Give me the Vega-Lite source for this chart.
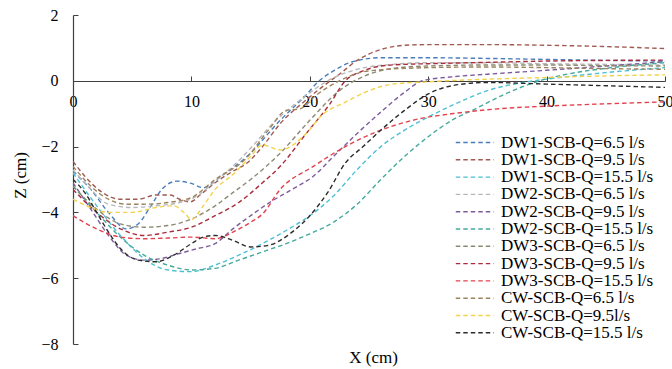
{
  "$schema": "https://vega.github.io/schema/vega-lite/v6.json",
  "width": 592,
  "height": 329,
  "autosize": {"type": "none"},
  "padding": {"left": 73, "top": 15, "right": 7, "bottom": 25},
  "background": "white",
  "config": {"view": {"stroke": null}, "font": "'Liberation Serif', 'Times New Roman', serif"},
  "datasets": {
    "profiles": [
      {"s": "DW1-SCB-Q=6.5 l/s", "x": 0, "z": -2.75}, {"s": "DW1-SCB-Q=6.5 l/s", "x": 1.5, "z": -3.3}, {"s": "DW1-SCB-Q=6.5 l/s", "x": 3, "z": -4.0}, {"s": "DW1-SCB-Q=6.5 l/s", "x": 4.5, "z": -4.5}, {"s": "DW1-SCB-Q=6.5 l/s", "x": 5.5, "z": -4.35}, {"s": "DW1-SCB-Q=6.5 l/s", "x": 6.5, "z": -3.85}, {"s": "DW1-SCB-Q=6.5 l/s", "x": 7.5, "z": -3.3}, {"s": "DW1-SCB-Q=6.5 l/s", "x": 8.8, "z": -3.05}, {"s": "DW1-SCB-Q=6.5 l/s", "x": 10, "z": -3.12}, {"s": "DW1-SCB-Q=6.5 l/s", "x": 11, "z": -3.25}, {"s": "DW1-SCB-Q=6.5 l/s", "x": 12.5, "z": -2.9}, {"s": "DW1-SCB-Q=6.5 l/s", "x": 14.7, "z": -2.3}, {"s": "DW1-SCB-Q=6.5 l/s", "x": 17.5, "z": -1.2}, {"s": "DW1-SCB-Q=6.5 l/s", "x": 19.5, "z": -0.5}, {"s": "DW1-SCB-Q=6.5 l/s", "x": 20.8, "z": 0.0}, {"s": "DW1-SCB-Q=6.5 l/s", "x": 22, "z": 0.3}, {"s": "DW1-SCB-Q=6.5 l/s", "x": 23.6, "z": 0.58}, {"s": "DW1-SCB-Q=6.5 l/s", "x": 26, "z": 0.7}, {"s": "DW1-SCB-Q=6.5 l/s", "x": 30, "z": 0.7}, {"s": "DW1-SCB-Q=6.5 l/s", "x": 35, "z": 0.68}, {"s": "DW1-SCB-Q=6.5 l/s", "x": 40, "z": 0.65}, {"s": "DW1-SCB-Q=6.5 l/s", "x": 45, "z": 0.62}, {"s": "DW1-SCB-Q=6.5 l/s", "x": 50, "z": 0.6},

      {"s": "DW1-SCB-Q=9.5 l/s", "x": 0, "z": -2.45}, {"s": "DW1-SCB-Q=9.5 l/s", "x": 1, "z": -2.9}, {"s": "DW1-SCB-Q=9.5 l/s", "x": 2.5, "z": -3.4}, {"s": "DW1-SCB-Q=9.5 l/s", "x": 4, "z": -3.6}, {"s": "DW1-SCB-Q=9.5 l/s", "x": 5.5, "z": -3.6}, {"s": "DW1-SCB-Q=9.5 l/s", "x": 7, "z": -3.47}, {"s": "DW1-SCB-Q=9.5 l/s", "x": 8.2, "z": -3.47}, {"s": "DW1-SCB-Q=9.5 l/s", "x": 9, "z": -3.6}, {"s": "DW1-SCB-Q=9.5 l/s", "x": 9.9, "z": -3.68}, {"s": "DW1-SCB-Q=9.5 l/s", "x": 10.8, "z": -3.45}, {"s": "DW1-SCB-Q=9.5 l/s", "x": 12, "z": -3.1}, {"s": "DW1-SCB-Q=9.5 l/s", "x": 13.5, "z": -2.75}, {"s": "DW1-SCB-Q=9.5 l/s", "x": 14.7, "z": -2.5}, {"s": "DW1-SCB-Q=9.5 l/s", "x": 16, "z": -2.0}, {"s": "DW1-SCB-Q=9.5 l/s", "x": 17.5, "z": -1.3}, {"s": "DW1-SCB-Q=9.5 l/s", "x": 19.7, "z": -0.58}, {"s": "DW1-SCB-Q=9.5 l/s", "x": 21, "z": -0.2}, {"s": "DW1-SCB-Q=9.5 l/s", "x": 22.5, "z": 0.2}, {"s": "DW1-SCB-Q=9.5 l/s", "x": 24, "z": 0.62}, {"s": "DW1-SCB-Q=9.5 l/s", "x": 26, "z": 0.95}, {"s": "DW1-SCB-Q=9.5 l/s", "x": 28, "z": 1.08}, {"s": "DW1-SCB-Q=9.5 l/s", "x": 30, "z": 1.1}, {"s": "DW1-SCB-Q=9.5 l/s", "x": 35, "z": 1.1}, {"s": "DW1-SCB-Q=9.5 l/s", "x": 40, "z": 1.08}, {"s": "DW1-SCB-Q=9.5 l/s", "x": 45, "z": 1.04}, {"s": "DW1-SCB-Q=9.5 l/s", "x": 50, "z": 0.98},

      {"s": "DW1-SCB-Q=15.5 l/s", "x": 0, "z": -2.8}, {"s": "DW1-SCB-Q=15.5 l/s", "x": 2, "z": -3.8}, {"s": "DW1-SCB-Q=15.5 l/s", "x": 4, "z": -4.7}, {"s": "DW1-SCB-Q=15.5 l/s", "x": 6, "z": -5.4}, {"s": "DW1-SCB-Q=15.5 l/s", "x": 8, "z": -5.75}, {"s": "DW1-SCB-Q=15.5 l/s", "x": 10, "z": -5.8}, {"s": "DW1-SCB-Q=15.5 l/s", "x": 12, "z": -5.6}, {"s": "DW1-SCB-Q=15.5 l/s", "x": 14, "z": -5.3}, {"s": "DW1-SCB-Q=15.5 l/s", "x": 16, "z": -4.95}, {"s": "DW1-SCB-Q=15.5 l/s", "x": 18, "z": -4.55}, {"s": "DW1-SCB-Q=15.5 l/s", "x": 20, "z": -4.1}, {"s": "DW1-SCB-Q=15.5 l/s", "x": 22, "z": -3.5}, {"s": "DW1-SCB-Q=15.5 l/s", "x": 24, "z": -2.7}, {"s": "DW1-SCB-Q=15.5 l/s", "x": 26, "z": -2.0}, {"s": "DW1-SCB-Q=15.5 l/s", "x": 28, "z": -1.5}, {"s": "DW1-SCB-Q=15.5 l/s", "x": 30, "z": -1.1}, {"s": "DW1-SCB-Q=15.5 l/s", "x": 32, "z": -0.75}, {"s": "DW1-SCB-Q=15.5 l/s", "x": 35, "z": -0.3}, {"s": "DW1-SCB-Q=15.5 l/s", "x": 38, "z": -0.05}, {"s": "DW1-SCB-Q=15.5 l/s", "x": 40, "z": 0.05}, {"s": "DW1-SCB-Q=15.5 l/s", "x": 45, "z": 0.25}, {"s": "DW1-SCB-Q=15.5 l/s", "x": 50, "z": 0.4},

      {"s": "DW2-SCB-Q=6.5 l/s", "x": 0, "z": -2.7}, {"s": "DW2-SCB-Q=6.5 l/s", "x": 1.5, "z": -3.3}, {"s": "DW2-SCB-Q=6.5 l/s", "x": 3, "z": -3.75}, {"s": "DW2-SCB-Q=6.5 l/s", "x": 5, "z": -3.85}, {"s": "DW2-SCB-Q=6.5 l/s", "x": 7, "z": -3.8}, {"s": "DW2-SCB-Q=6.5 l/s", "x": 9, "z": -3.7}, {"s": "DW2-SCB-Q=6.5 l/s", "x": 10.5, "z": -3.5}, {"s": "DW2-SCB-Q=6.5 l/s", "x": 12, "z": -3.05}, {"s": "DW2-SCB-Q=6.5 l/s", "x": 13.5, "z": -2.6}, {"s": "DW2-SCB-Q=6.5 l/s", "x": 15, "z": -2.05}, {"s": "DW2-SCB-Q=6.5 l/s", "x": 17, "z": -1.25}, {"s": "DW2-SCB-Q=6.5 l/s", "x": 19.5, "z": -0.5}, {"s": "DW2-SCB-Q=6.5 l/s", "x": 21.5, "z": 0.0}, {"s": "DW2-SCB-Q=6.5 l/s", "x": 24, "z": 0.35}, {"s": "DW2-SCB-Q=6.5 l/s", "x": 27, "z": 0.5}, {"s": "DW2-SCB-Q=6.5 l/s", "x": 30, "z": 0.55}, {"s": "DW2-SCB-Q=6.5 l/s", "x": 35, "z": 0.55}, {"s": "DW2-SCB-Q=6.5 l/s", "x": 40, "z": 0.52}, {"s": "DW2-SCB-Q=6.5 l/s", "x": 45, "z": 0.5}, {"s": "DW2-SCB-Q=6.5 l/s", "x": 50, "z": 0.48},

      {"s": "DW2-SCB-Q=9.5 l/s", "x": 0, "z": -3.1}, {"s": "DW2-SCB-Q=9.5 l/s", "x": 1.5, "z": -3.9}, {"s": "DW2-SCB-Q=9.5 l/s", "x": 3, "z": -4.7}, {"s": "DW2-SCB-Q=9.5 l/s", "x": 4.5, "z": -5.3}, {"s": "DW2-SCB-Q=9.5 l/s", "x": 6, "z": -5.45}, {"s": "DW2-SCB-Q=9.5 l/s", "x": 7.5, "z": -5.4}, {"s": "DW2-SCB-Q=9.5 l/s", "x": 9, "z": -5.25}, {"s": "DW2-SCB-Q=9.5 l/s", "x": 10.5, "z": -5.1}, {"s": "DW2-SCB-Q=9.5 l/s", "x": 12, "z": -4.95}, {"s": "DW2-SCB-Q=9.5 l/s", "x": 13.5, "z": -4.5}, {"s": "DW2-SCB-Q=9.5 l/s", "x": 15, "z": -4.1}, {"s": "DW2-SCB-Q=9.5 l/s", "x": 16.6, "z": -3.7}, {"s": "DW2-SCB-Q=9.5 l/s", "x": 18.5, "z": -3.3}, {"s": "DW2-SCB-Q=9.5 l/s", "x": 20.3, "z": -2.9}, {"s": "DW2-SCB-Q=9.5 l/s", "x": 22, "z": -2.3}, {"s": "DW2-SCB-Q=9.5 l/s", "x": 24, "z": -1.6}, {"s": "DW2-SCB-Q=9.5 l/s", "x": 26, "z": -0.95}, {"s": "DW2-SCB-Q=9.5 l/s", "x": 28, "z": -0.35}, {"s": "DW2-SCB-Q=9.5 l/s", "x": 29.5, "z": 0.0}, {"s": "DW2-SCB-Q=9.5 l/s", "x": 32, "z": 0.12}, {"s": "DW2-SCB-Q=9.5 l/s", "x": 35, "z": 0.2}, {"s": "DW2-SCB-Q=9.5 l/s", "x": 40, "z": 0.32}, {"s": "DW2-SCB-Q=9.5 l/s", "x": 45, "z": 0.45}, {"s": "DW2-SCB-Q=9.5 l/s", "x": 50, "z": 0.58},

      {"s": "DW2-SCB-Q=15.5 l/s", "x": 0, "z": -3.2}, {"s": "DW2-SCB-Q=15.5 l/s", "x": 2, "z": -4.0}, {"s": "DW2-SCB-Q=15.5 l/s", "x": 4, "z": -4.75}, {"s": "DW2-SCB-Q=15.5 l/s", "x": 6, "z": -5.3}, {"s": "DW2-SCB-Q=15.5 l/s", "x": 8, "z": -5.6}, {"s": "DW2-SCB-Q=15.5 l/s", "x": 10, "z": -5.75}, {"s": "DW2-SCB-Q=15.5 l/s", "x": 12, "z": -5.7}, {"s": "DW2-SCB-Q=15.5 l/s", "x": 14, "z": -5.45}, {"s": "DW2-SCB-Q=15.5 l/s", "x": 16, "z": -5.2}, {"s": "DW2-SCB-Q=15.5 l/s", "x": 18, "z": -4.95}, {"s": "DW2-SCB-Q=15.5 l/s", "x": 20, "z": -4.65}, {"s": "DW2-SCB-Q=15.5 l/s", "x": 22, "z": -4.3}, {"s": "DW2-SCB-Q=15.5 l/s", "x": 24, "z": -3.75}, {"s": "DW2-SCB-Q=15.5 l/s", "x": 26, "z": -3.0}, {"s": "DW2-SCB-Q=15.5 l/s", "x": 28, "z": -2.3}, {"s": "DW2-SCB-Q=15.5 l/s", "x": 30, "z": -1.7}, {"s": "DW2-SCB-Q=15.5 l/s", "x": 32, "z": -1.2}, {"s": "DW2-SCB-Q=15.5 l/s", "x": 34, "z": -0.85}, {"s": "DW2-SCB-Q=15.5 l/s", "x": 36.5, "z": -0.4}, {"s": "DW2-SCB-Q=15.5 l/s", "x": 39.4, "z": 0.0}, {"s": "DW2-SCB-Q=15.5 l/s", "x": 42, "z": 0.22}, {"s": "DW2-SCB-Q=15.5 l/s", "x": 45, "z": 0.38}, {"s": "DW2-SCB-Q=15.5 l/s", "x": 50, "z": 0.55},

      {"s": "DW3-SCB-Q=6.5 l/s", "x": 0, "z": -3.2}, {"s": "DW3-SCB-Q=6.5 l/s", "x": 2, "z": -3.9}, {"s": "DW3-SCB-Q=6.5 l/s", "x": 4, "z": -4.35}, {"s": "DW3-SCB-Q=6.5 l/s", "x": 6, "z": -4.45}, {"s": "DW3-SCB-Q=6.5 l/s", "x": 8, "z": -4.4}, {"s": "DW3-SCB-Q=6.5 l/s", "x": 10, "z": -4.2}, {"s": "DW3-SCB-Q=6.5 l/s", "x": 12, "z": -3.8}, {"s": "DW3-SCB-Q=6.5 l/s", "x": 13.5, "z": -3.4}, {"s": "DW3-SCB-Q=6.5 l/s", "x": 15, "z": -3.0}, {"s": "DW3-SCB-Q=6.5 l/s", "x": 17.5, "z": -2.2}, {"s": "DW3-SCB-Q=6.5 l/s", "x": 20, "z": -1.2}, {"s": "DW3-SCB-Q=6.5 l/s", "x": 22.5, "z": -0.3}, {"s": "DW3-SCB-Q=6.5 l/s", "x": 25, "z": 0.2}, {"s": "DW3-SCB-Q=6.5 l/s", "x": 27.5, "z": 0.4}, {"s": "DW3-SCB-Q=6.5 l/s", "x": 30, "z": 0.45}, {"s": "DW3-SCB-Q=6.5 l/s", "x": 35, "z": 0.48}, {"s": "DW3-SCB-Q=6.5 l/s", "x": 40, "z": 0.48}, {"s": "DW3-SCB-Q=6.5 l/s", "x": 45, "z": 0.46}, {"s": "DW3-SCB-Q=6.5 l/s", "x": 50, "z": 0.45},

      {"s": "DW3-SCB-Q=9.5 l/s", "x": 0, "z": -3.3}, {"s": "DW3-SCB-Q=9.5 l/s", "x": 2, "z": -4.0}, {"s": "DW3-SCB-Q=9.5 l/s", "x": 4, "z": -4.5}, {"s": "DW3-SCB-Q=9.5 l/s", "x": 6, "z": -4.7}, {"s": "DW3-SCB-Q=9.5 l/s", "x": 8, "z": -4.6}, {"s": "DW3-SCB-Q=9.5 l/s", "x": 10, "z": -4.45}, {"s": "DW3-SCB-Q=9.5 l/s", "x": 12, "z": -4.1}, {"s": "DW3-SCB-Q=9.5 l/s", "x": 14, "z": -3.7}, {"s": "DW3-SCB-Q=9.5 l/s", "x": 16, "z": -3.1}, {"s": "DW3-SCB-Q=9.5 l/s", "x": 17.5, "z": -2.6}, {"s": "DW3-SCB-Q=9.5 l/s", "x": 19.7, "z": -1.6}, {"s": "DW3-SCB-Q=9.5 l/s", "x": 21.7, "z": -0.7}, {"s": "DW3-SCB-Q=9.5 l/s", "x": 23, "z": 0.0}, {"s": "DW3-SCB-Q=9.5 l/s", "x": 24.5, "z": 0.3}, {"s": "DW3-SCB-Q=9.5 l/s", "x": 26, "z": 0.45}, {"s": "DW3-SCB-Q=9.5 l/s", "x": 28, "z": 0.5}, {"s": "DW3-SCB-Q=9.5 l/s", "x": 30, "z": 0.52}, {"s": "DW3-SCB-Q=9.5 l/s", "x": 35, "z": 0.56}, {"s": "DW3-SCB-Q=9.5 l/s", "x": 40, "z": 0.6}, {"s": "DW3-SCB-Q=9.5 l/s", "x": 45, "z": 0.62}, {"s": "DW3-SCB-Q=9.5 l/s", "x": 50, "z": 0.63},

      {"s": "DW3-SCB-Q=15.5 l/s", "x": 0, "z": -4.1}, {"s": "DW3-SCB-Q=15.5 l/s", "x": 2, "z": -4.5}, {"s": "DW3-SCB-Q=15.5 l/s", "x": 4, "z": -4.75}, {"s": "DW3-SCB-Q=15.5 l/s", "x": 6, "z": -4.8}, {"s": "DW3-SCB-Q=15.5 l/s", "x": 8, "z": -4.78}, {"s": "DW3-SCB-Q=15.5 l/s", "x": 10, "z": -4.75}, {"s": "DW3-SCB-Q=15.5 l/s", "x": 12, "z": -4.8}, {"s": "DW3-SCB-Q=15.5 l/s", "x": 13.5, "z": -4.6}, {"s": "DW3-SCB-Q=15.5 l/s", "x": 15, "z": -4.3}, {"s": "DW3-SCB-Q=15.5 l/s", "x": 16, "z": -4.05}, {"s": "DW3-SCB-Q=15.5 l/s", "x": 17.5, "z": -3.3}, {"s": "DW3-SCB-Q=15.5 l/s", "x": 20.3, "z": -2.6}, {"s": "DW3-SCB-Q=15.5 l/s", "x": 23, "z": -2.0}, {"s": "DW3-SCB-Q=15.5 l/s", "x": 26, "z": -1.5}, {"s": "DW3-SCB-Q=15.5 l/s", "x": 28.7, "z": -1.2}, {"s": "DW3-SCB-Q=15.5 l/s", "x": 32.7, "z": -0.97}, {"s": "DW3-SCB-Q=15.5 l/s", "x": 36, "z": -0.85}, {"s": "DW3-SCB-Q=15.5 l/s", "x": 40, "z": -0.77}, {"s": "DW3-SCB-Q=15.5 l/s", "x": 45, "z": -0.7}, {"s": "DW3-SCB-Q=15.5 l/s", "x": 50, "z": -0.64},

      {"s": "CW-SCB-Q=6.5 l/s", "x": 0, "z": -2.6}, {"s": "CW-SCB-Q=6.5 l/s", "x": 1.5, "z": -3.2}, {"s": "CW-SCB-Q=6.5 l/s", "x": 3, "z": -3.6}, {"s": "CW-SCB-Q=6.5 l/s", "x": 4.5, "z": -3.75}, {"s": "CW-SCB-Q=6.5 l/s", "x": 6, "z": -3.75}, {"s": "CW-SCB-Q=6.5 l/s", "x": 8, "z": -3.7}, {"s": "CW-SCB-Q=6.5 l/s", "x": 10, "z": -3.55}, {"s": "CW-SCB-Q=6.5 l/s", "x": 12, "z": -3.0}, {"s": "CW-SCB-Q=6.5 l/s", "x": 14.5, "z": -2.4}, {"s": "CW-SCB-Q=6.5 l/s", "x": 16.5, "z": -1.5}, {"s": "CW-SCB-Q=6.5 l/s", "x": 18, "z": -0.9}, {"s": "CW-SCB-Q=6.5 l/s", "x": 19.2, "z": -0.85}, {"s": "CW-SCB-Q=6.5 l/s", "x": 20.5, "z": -0.45}, {"s": "CW-SCB-Q=6.5 l/s", "x": 22.5, "z": 0.0}, {"s": "CW-SCB-Q=6.5 l/s", "x": 25, "z": 0.3}, {"s": "CW-SCB-Q=6.5 l/s", "x": 30, "z": 0.4}, {"s": "CW-SCB-Q=6.5 l/s", "x": 35, "z": 0.42}, {"s": "CW-SCB-Q=6.5 l/s", "x": 40, "z": 0.4}, {"s": "CW-SCB-Q=6.5 l/s", "x": 45, "z": 0.37}, {"s": "CW-SCB-Q=6.5 l/s", "x": 50, "z": 0.35},

      {"s": "CW-SCB-Q=9.5l/s", "x": 0, "z": -3.6}, {"s": "CW-SCB-Q=9.5l/s", "x": 1.5, "z": -3.85}, {"s": "CW-SCB-Q=9.5l/s", "x": 3, "z": -4.0}, {"s": "CW-SCB-Q=9.5l/s", "x": 5, "z": -4.0}, {"s": "CW-SCB-Q=9.5l/s", "x": 7, "z": -3.85}, {"s": "CW-SCB-Q=9.5l/s", "x": 8.5, "z": -3.8}, {"s": "CW-SCB-Q=9.5l/s", "x": 9.5, "z": -4.05}, {"s": "CW-SCB-Q=9.5l/s", "x": 10, "z": -4.22}, {"s": "CW-SCB-Q=9.5l/s", "x": 11, "z": -3.8}, {"s": "CW-SCB-Q=9.5l/s", "x": 12, "z": -3.3}, {"s": "CW-SCB-Q=9.5l/s", "x": 13.5, "z": -2.85}, {"s": "CW-SCB-Q=9.5l/s", "x": 15, "z": -2.3}, {"s": "CW-SCB-Q=9.5l/s", "x": 16, "z": -1.95}, {"s": "CW-SCB-Q=9.5l/s", "x": 17.5, "z": -2.1}, {"s": "CW-SCB-Q=9.5l/s", "x": 19.7, "z": -1.6}, {"s": "CW-SCB-Q=9.5l/s", "x": 21, "z": -1.05}, {"s": "CW-SCB-Q=9.5l/s", "x": 23, "z": -0.65}, {"s": "CW-SCB-Q=9.5l/s", "x": 25, "z": -0.3}, {"s": "CW-SCB-Q=9.5l/s", "x": 27, "z": -0.1}, {"s": "CW-SCB-Q=9.5l/s", "x": 30, "z": -0.03}, {"s": "CW-SCB-Q=9.5l/s", "x": 35, "z": 0.05}, {"s": "CW-SCB-Q=9.5l/s", "x": 40, "z": 0.1}, {"s": "CW-SCB-Q=9.5l/s", "x": 45, "z": 0.15}, {"s": "CW-SCB-Q=9.5l/s", "x": 50, "z": 0.18},

      {"s": "CW-SCB-Q=15.5 l/s", "x": 0, "z": -3.0}, {"s": "CW-SCB-Q=15.5 l/s", "x": 1, "z": -3.4}, {"s": "CW-SCB-Q=15.5 l/s", "x": 2, "z": -4.0}, {"s": "CW-SCB-Q=15.5 l/s", "x": 3, "z": -4.6}, {"s": "CW-SCB-Q=15.5 l/s", "x": 4, "z": -5.1}, {"s": "CW-SCB-Q=15.5 l/s", "x": 5.5, "z": -5.45}, {"s": "CW-SCB-Q=15.5 l/s", "x": 7, "z": -5.5}, {"s": "CW-SCB-Q=15.5 l/s", "x": 8.5, "z": -5.3}, {"s": "CW-SCB-Q=15.5 l/s", "x": 10, "z": -4.95}, {"s": "CW-SCB-Q=15.5 l/s", "x": 11, "z": -4.75}, {"s": "CW-SCB-Q=15.5 l/s", "x": 12, "z": -4.7}, {"s": "CW-SCB-Q=15.5 l/s", "x": 13.5, "z": -4.85}, {"s": "CW-SCB-Q=15.5 l/s", "x": 15, "z": -5.05}, {"s": "CW-SCB-Q=15.5 l/s", "x": 16.5, "z": -5.0}, {"s": "CW-SCB-Q=15.5 l/s", "x": 18.5, "z": -4.6}, {"s": "CW-SCB-Q=15.5 l/s", "x": 20, "z": -4.1}, {"s": "CW-SCB-Q=15.5 l/s", "x": 21.5, "z": -3.4}, {"s": "CW-SCB-Q=15.5 l/s", "x": 23, "z": -2.5}, {"s": "CW-SCB-Q=15.5 l/s", "x": 24.5, "z": -2.0}, {"s": "CW-SCB-Q=15.5 l/s", "x": 26, "z": -1.5}, {"s": "CW-SCB-Q=15.5 l/s", "x": 28, "z": -0.9}, {"s": "CW-SCB-Q=15.5 l/s", "x": 30, "z": -0.4}, {"s": "CW-SCB-Q=15.5 l/s", "x": 32, "z": -0.15}, {"s": "CW-SCB-Q=15.5 l/s", "x": 35, "z": -0.05}, {"s": "CW-SCB-Q=15.5 l/s", "x": 40, "z": -0.1}, {"s": "CW-SCB-Q=15.5 l/s", "x": 45, "z": -0.15}, {"s": "CW-SCB-Q=15.5 l/s", "x": 50, "z": -0.2}
    ]
  },
  "data": {"name": "profiles"},
  "mark": {"type": "line", "strokeWidth": 1.4, "strokeDash": [4.5, 3], "interpolate": "monotone", "clip": true},
  "encoding": {
    "x": {
      "field": "x", "type": "quantitative",
      "scale": {"domain": [0, 50], "nice": false, "zero": false},
      "axis": {
        "values": [0, 10, 20, 30, 40, 50], "offset": -263, "grid": false,
        "tickSize": -5, "labelPadding": 17, "labelFlush": false, "labelOverlap": false,
        "domainColor": "#404040", "tickColor": "#404040", "domainWidth": 1.2,
        "labelFont": "'Liberation Serif', 'Times New Roman', serif", "labelFontSize": 16, "labelColor": "#000",
        "title": "X (cm)", "titleFont": "'Liberation Serif', 'Times New Roman', serif", "titleFontSize": 17, "titleFontWeight": "normal", "titleColor": "#000",
        "titleX": 300, "titleY": 281, "titleBaseline": "alphabetic", "titleAlign": "center"
      }
    },
    "y": {
      "field": "z", "type": "quantitative",
      "scale": {"domain": [-8, 2], "nice": false, "zero": false},
      "axis": {
        "values": [-8, -6, -4, -2, 0, 2], "grid": false,
        "tickSize": -5, "labelPadding": 20,
        "domainColor": "#404040", "tickColor": "#404040", "domainWidth": 1.2,
        "labelFont": "'Liberation Serif', 'Times New Roman', serif", "labelFontSize": 16, "labelColor": "#000",
        "title": "Z (cm)", "titleFont": "'Liberation Serif', 'Times New Roman', serif", "titleFontSize": 17, "titleFontWeight": "normal", "titleColor": "#000",
        "titleX": -53, "titleY": 160, "titleAngle": -90, "titleAlign": "center", "titleBaseline": "middle"
      }
    },
    "color": {
      "field": "s", "type": "nominal",
      "scale": {
        "domain": ["DW1-SCB-Q=6.5 l/s", "DW1-SCB-Q=9.5 l/s", "DW1-SCB-Q=15.5 l/s", "DW2-SCB-Q=6.5 l/s", "DW2-SCB-Q=9.5 l/s", "DW2-SCB-Q=15.5 l/s", "DW3-SCB-Q=6.5 l/s", "DW3-SCB-Q=9.5 l/s", "DW3-SCB-Q=15.5 l/s", "CW-SCB-Q=6.5 l/s", "CW-SCB-Q=9.5l/s", "CW-SCB-Q=15.5 l/s"],
        "range": ["#4a7ebb", "#a05a52", "#4ec0d4", "#b8b8b8", "#7d5c9c", "#45aa9c", "#8c8a72", "#a82c3c", "#e2424e", "#9c845e", "#f2d24c", "#2c2c2c"]
      },
      "legend": {
        "orient": "none", "legendX": 379, "legendY": 119, "title": null, "padding": 0,
        "symbolType": "M-1,0H7", "symbolSize": 90, "symbolStrokeWidth": 1.4, "symbolDash": [4.5, 3],
        "labelFont": "'Liberation Serif', 'Times New Roman', serif", "labelFontSize": 17, "labelColor": "#000", "labelOffset": 32,
        "labelLimit": 300, "rowPadding": -0.7
      }
    }
  }
}
